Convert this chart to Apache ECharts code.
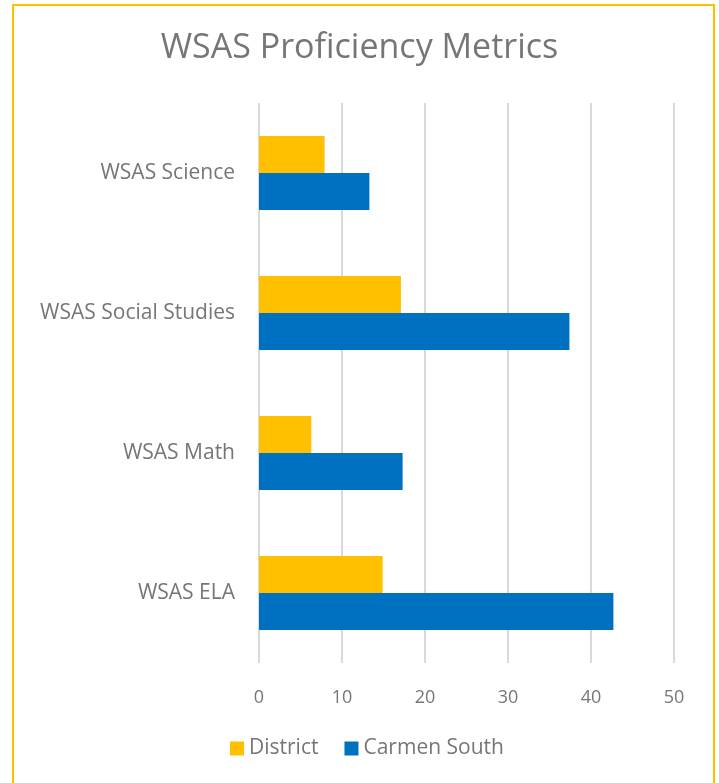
<!DOCTYPE html>
<html>
<head>
<meta charset="utf-8">
<script src="https://cdn.jsdelivr.net/npm/echarts@6/dist/echarts.min.js"></script>
<style>
  html, body { margin: 0; padding: 0; background: #fff; }
  #chart { width: 719px; height: 783px; }
</style>
</head>
<body>
<div id="chart"></div>
<script>
// categories listed bottom-up, as the category axis draws them
const categories = ['WSAS ELA', 'WSAS Math', 'WSAS Social Studies', 'WSAS Science']
const district = [14.9, 6.3, 17.1, 7.9]
const carmenSouth = [42.7, 17.3, 37.4, 13.3]
const xTicks = [0, 10, 20, 30, 40, 50]

const FONT = '"Open Sans", sans-serif'
const TEXT = '#767676'

const chart = echarts.init(document.getElementById('chart'), null, { renderer: 'canvas' })

chart.setOption({
  animation: false,
  backgroundColor: '#fff',
  title: {
    text: 'WSAS Proficiency Metrics',
    left: 'center',
    top: 26,
    textStyle: { fontFamily: FONT, fontSize: 34, fontWeight: 'normal', color: TEXT }
  },
  legend: {
    data: ['District', 'Carmen South'],
    bottom: 19,
    left: 225,
    itemWidth: 14,
    itemHeight: 14,
    itemGap: 26,
    icon: 'rect',
    textStyle: { fontFamily: FONT, fontSize: 21, color: TEXT }
  },
  grid: { left: 259, right: 45, top: 103, bottom: 120, containLabel: false },
  xAxis: {
    type: 'value',
    min: xTicks[0],
    max: xTicks[xTicks.length - 1],
    interval: 10,
    axisLine: { show: false },
    axisTick: { show: false },
    axisLabel: { fontFamily: FONT, fontSize: 18, color: TEXT, margin: 26 },
    splitLine: { lineStyle: { color: '#d9d9d9', width: 2 } }
  },
  yAxis: {
    type: 'category',
    data: categories,
    axisLine: { show: false },
    axisTick: { show: false },
    axisLabel: { fontFamily: FONT, fontSize: 21, color: TEXT, margin: 24 }
  },
  series: [
    {
      name: 'District',
      type: 'bar',
      data: district,
      barWidth: 37,
      barGap: '0%',
      itemStyle: { color: '#FFC000' }
    },
    {
      name: 'Carmen South',
      type: 'bar',
      data: carmenSouth,
      barWidth: 37,
      barGap: '0%',
      itemStyle: { color: '#0070C0' }
    }
  ],
  graphic: [{
    type: 'rect',
    shape: { x: 13, y: 5, width: 701, height: 800 },
    style: { fill: 'none', stroke: '#FFC000', lineWidth: 2 },
    silent: true
  }]
})
</script>
</body>
</html>
